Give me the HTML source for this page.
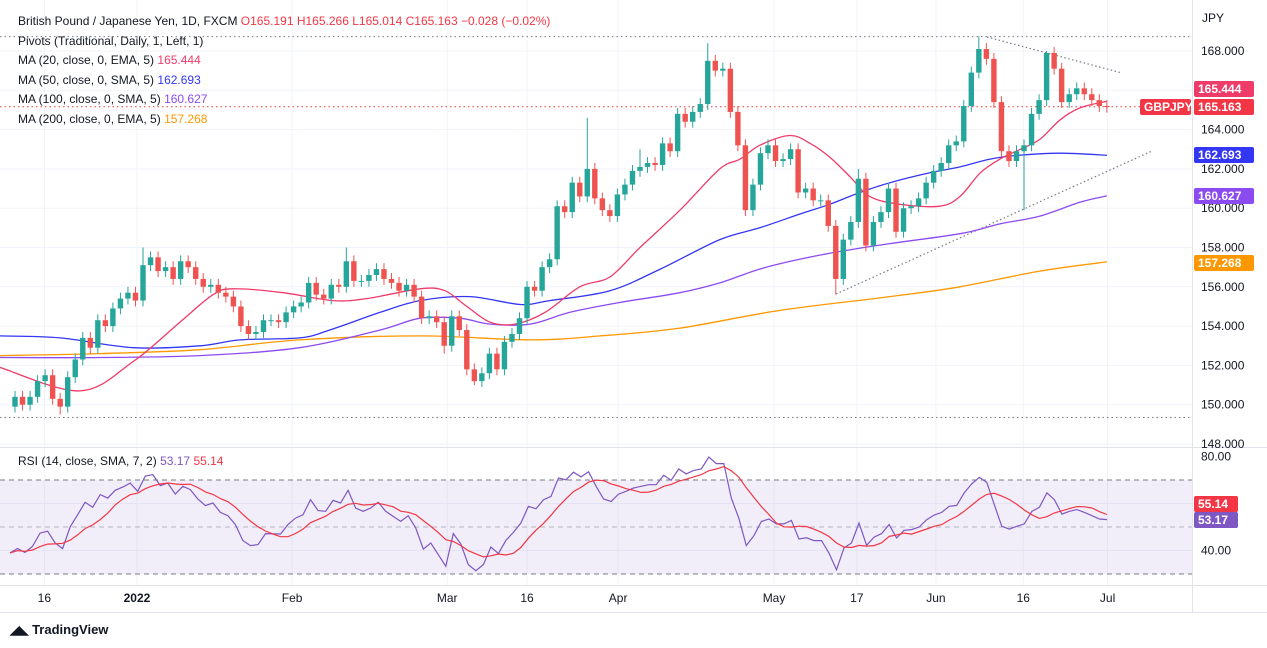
<!DOCTYPE html>
<html><head><meta charset="utf-8"><style>
html,body{margin:0;padding:0;background:#fff;width:1267px;height:648px;overflow:hidden;font-family:"Liberation Sans",Arial,sans-serif;}
svg text{font-family:"Liberation Sans",Arial,sans-serif;}
</style></head><body>
<svg id="chart" width="1267" height="648" xmlns="http://www.w3.org/2000/svg">
<rect x="0" y="0" width="1267" height="648" fill="#ffffff"/>
<g id="grid"></g>
<g id="rsiBg"></g>
<g id="mainLines"></g>
<g id="candles"></g>
<g id="rsiLines"></g>
<g id="axes"></g>
<g id="legend"></g>
</svg>
<script>
// ---- DATA ----
const firstOpen = 149.9;
const closes = [150.4,150.0,150.4,151.2,151.5,150.3,149.9,151.4,152.3,153.4,152.9,154.3,154.0,154.9,155.4,155.7,155.3,157.1,157.5,156.8,157.0,156.4,157.3,157.0,156.4,156.0,156.1,155.7,155.5,155.0,154.0,153.6,153.7,154.3,154.3,154.2,154.7,155.0,155.2,156.2,155.6,155.4,156.1,156.0,157.3,156.3,156.3,156.6,156.9,156.4,156.2,155.8,156.1,155.5,154.4,154.5,154.2,153.0,154.5,153.8,151.8,151.2,151.6,152.6,151.8,153.2,153.6,154.4,156.0,155.8,157.0,157.4,160.1,159.8,161.3,160.6,162.0,160.5,159.9,159.6,160.7,161.2,161.9,162.1,162.3,162.2,163.3,162.9,164.8,164.4,164.9,165.3,167.5,167.0,167.1,164.9,163.2,159.9,161.2,162.8,163.2,162.4,162.5,163.0,160.8,161.0,160.4,160.4,159.1,156.4,158.4,159.3,161.5,158.1,159.3,159.8,161.0,158.8,160.0,160.1,160.5,161.3,161.9,162.3,163.2,163.4,165.2,166.9,168.1,167.6,165.4,162.9,162.4,162.9,163.2,164.8,165.5,167.9,167.1,165.4,165.8,166.1,165.8,165.5,165.2,165.163];
const highOverrides = {17:158.0,44:158.0,76:164.6,92:168.4,128:168.75,137:168.0,83:163.0,112:162.0};
const lowOverrides = {6:149.5,61:151.0,109:155.6,134:159.9,97:159.6,57:152.6};
const ma20Day = [-2,8.6,15.7,21.9,26.3,29.0,35.6,42.2,46.7,53.8,57.1,60.0,63.1,66.4,70.4,75.0,79.0,83.0,88.3,93.6,96.3,98.9,102.9,105.6,108.2,110.9,113.5,117.5,122.8,125.5,128.2,130.8,133.5,136.1,138.8,141.4,145];
const ma20Val = [151.9,150.7,152.2,154.2,155.6,155.9,155.7,155.3,155.4,155.9,155.8,155.0,154.2,154.1,154.7,156.0,156.5,158.0,159.9,162.0,162.5,163.2,163.7,163.3,162.6,161.6,160.6,160.2,160.1,160.6,161.8,162.5,163.0,163.5,164.5,165.1,165.444];
const ma50Day = [-2,6.0,15.7,24.6,29.9,37.8,41.8,48.5,53.8,60.4,67.1,71.0,79.0,85.7,93.6,98.9,104.2,108.2,112.2,116.2,121.5,125.5,129.5,133.5,138.8,145];
const ma50Val = [153.5,153.4,152.9,153.0,153.3,153.4,153.8,154.7,155.3,155.5,155.1,155.3,155.8,156.9,158.4,159.0,159.7,160.2,160.8,161.3,161.8,162.1,162.5,162.7,162.8,162.693];
const ma100Day = [-2,11.3,24.6,37.8,48.5,53.8,59.1,63.1,68.4,73.7,80.3,88.3,93.6,98.9,104.2,109.6,116.2,125.5,130.8,136.1,141.4,145];
const ma100Val = [152.4,152.4,152.5,152.9,153.8,154.4,154.4,154.1,154.1,154.7,155.2,155.7,156.2,156.9,157.4,157.8,158.2,158.7,159.2,159.6,160.3,160.627];
const ma200Day = [-2,11.3,24.6,37.8,53.8,68.4,77.7,88.3,101.6,116.2,125.5,136.1,145];
const ma200Val = [152.5,152.6,152.8,153.3,153.5,153.3,153.5,153.9,154.8,155.5,156.0,156.8,157.268];
const rsi = [39,40.8,39.2,41.8,47.4,48.2,43.2,40.8,50,55.2,60.5,58.4,63.8,62.3,65.6,67,68.7,65.2,71.6,72.3,67.6,68.7,64,67.3,65.9,61.9,59.1,60.2,56.2,54.8,51,44.2,42.1,42.5,47.2,47.1,47,51,53.8,55.2,61.6,57,56.7,61.3,60.2,65.6,58.1,56.7,58.1,60.5,56.7,54.5,52.4,54.8,49.6,40.6,43.2,38.2,33.3,47.2,42.8,34,31.4,34,41.5,38.7,44.3,47.7,51.7,58.8,57.8,61.6,63,70.9,70.1,73.3,71.3,73.5,67.3,61.9,60.9,64,65.2,66.6,67.3,68,68,72,69.9,74.7,72.6,74.1,74.7,79.8,77,77,62.3,53.8,42.1,46.3,52.4,53.4,51.3,51.3,52.8,44.9,45.4,44.2,44.2,38.9,31.8,41.1,43.2,51.7,42.2,45.7,47.2,51,45.3,48.6,48.9,50,53.1,55.1,56.2,58.8,59.2,64.5,68.4,71.1,69,59.5,50.3,49.1,50.3,51.3,56.7,58.4,64.5,61.6,55.5,56.7,57.4,56.2,54.8,53.4,53.17];
const priceTicks = [168,166,164,162,160,158,156,154,152,150,148];
const rsiTicks = [80,40];
const timeLabels = ["16","2022","Feb","Mar","16","Apr","May","17","Jun","16","Jul"];
const timeDays = [3.9,16.2,36.8,57.4,68.0,80.1,100.8,111.8,122.3,133.9,145.1];

// ---- SCALES ----
const NS='http://www.w3.org/2000/svg';
function xOf(i){return 15+i*7.53;}
function yP(p){return 51+(168-p)*19.65;}
function yR(v){return 527-(v-50)*2.35;}
function el(tag,attrs,parent){const e=document.createElementNS(NS,tag);for(const k in attrs)e.setAttribute(k,attrs[k]);parent.appendChild(e);return e;}
const G=id=>document.getElementById(id);

// grid
const grid=G('grid');
priceTicks.forEach(p=>{const l=el('line',{x1:0,x2:1192,y1:yP(p),y2:yP(p),stroke:'#f0f3fa','stroke-width':1},grid);

});
timeDays.forEach(d=>{const l=el('line',{x1:xOf(d),x2:xOf(d),y1:0,y2:585,stroke:'#f0f3fa','stroke-width':1},grid);

});
const rl=el('line',{x1:0,x2:1192,y1:yR(60),y2:yR(60),stroke:'#f0f3fa'},grid);
const rl2=el('line',{x1:0,x2:1192,y1:yR(40),y2:yR(40),stroke:'#f0f3fa'},grid);

// RSI background and bands
const rb=G('rsiBg');
const band=el('rect',{x:0,y:yR(70),width:1192,height:yR(30)-yR(70),fill:'#7e57c2','fill-opacity':0.1},rb);


[[70,'#787b86','5,4'],[50,'#b2b5be','5,4'],[30,'#787b86','5,4']].forEach(a=>{const l=el('line',{x1:0,x2:1192,y1:yR(a[0]),y2:yR(a[0]),stroke:a[1],'stroke-dasharray':a[2]},rb);

});

// pivots & trendlines
const ml=G('mainLines');
[[yP(168.73),'#787b86'],[yP(149.35),'#787b86'],[yP(165.163),'#f23645']].forEach(a=>{const l=el('line',{x1:0,x2:1192,y1:a[0],y2:a[0],stroke:a[1],'stroke-dasharray':'1.5,3'},ml);

});
const t1=el('line',{x1:987,y1:37,x2:1122,y2:73,stroke:'#787b86','stroke-dasharray':'1.5,2.5','stroke-width':1.2},ml);


const t2=el('line',{x1:836,y1:294,x2:1152,y2:151,stroke:'#787b86','stroke-dasharray':'1.5,2.5','stroke-width':1.2},ml);


function smoothPath(pts){let d='M'+pts[0][0].toFixed(1)+','+pts[0][1].toFixed(1);
for(let i=0;i<pts.length-1;i++){const p0=pts[i-1]||pts[i],p1=pts[i],p2=pts[i+1],p3=pts[i+2]||p2;
const c1x=p1[0]+(p2[0]-p0[0])/6,c1y=p1[1]+(p2[1]-p0[1])/6,c2x=p2[0]-(p3[0]-p1[0])/6,c2y=p2[1]-(p3[1]-p1[1])/6;
d+='C'+c1x.toFixed(1)+','+c1y.toFixed(1)+' '+c2x.toFixed(1)+','+c2y.toFixed(1)+' '+p2[0].toFixed(1)+','+p2[1].toFixed(1);}
return d;}
function maPath(days,vals,color,name,w){const pts=days.map((t,i)=>[xOf(t),yP(vals[i])]);
const p=el('path',{d:smoothPath(pts),fill:'none',stroke:color,'stroke-width':w||1.3,'stroke-linejoin':'round'},ml);

}
maPath(ma200Day,ma200Val,'#ff9800','ma200-line');
maPath(ma100Day,ma100Val,'#8c4bf0','ma100-line');
maPath(ma50Day,ma50Val,'#3336f2','ma50-line');
maPath(ma20Day,ma20Val,'#ee3b6a','ma20-line');

// candles
const cg=G('candles');
let prev=firstOpen;
closes.forEach((c,i)=>{const o=prev;prev=c;const up=c>=o;const col=up?'#26a69a':'#ef5350';
const hi=highOverrides[i]!==undefined?highOverrides[i]:Math.max(o,c)+0.3;
const lo=lowOverrides[i]!==undefined?lowOverrides[i]:Math.min(o,c)-0.3;
const x=xOf(i);
const w=el('line',{x1:x,x2:x,y1:yP(hi),y2:yP(lo),stroke:col,'stroke-width':1},cg);


const top=yP(Math.max(o,c)),bot=yP(Math.min(o,c));
const r=el('rect',{x:x-2.7,y:top,width:5.4,height:Math.max(1,bot-top),fill:col},cg);

});

// RSI lines
const rg=G('rsiLines');
function rx(i){return 10+i*(1107-10)/(rsi.length-1);}
let d1='';rsi.forEach((v,i)=>{d1+=(i?'L':'M')+rx(i).toFixed(1)+','+yR(v).toFixed(1);});
const sma=rsi.map((v,i)=>{const s=rsi.slice(Math.max(0,i-6),i+1);return s.reduce((a,b)=>a+b,0)/s.length;});
let d2='';sma.forEach((v,i)=>{d2+=(i?'L':'M')+rx(i).toFixed(1)+','+yR(v).toFixed(1);});
const p1=el('path',{d:d1,fill:'none',stroke:'#7e57c2','stroke-width':1.2},rg);


const p2=el('path',{d:d2,fill:'none',stroke:'#f23645','stroke-width':1.2},rg);



// axes
const ax=G('axes');
function line(a,name){const l=el('line',a,ax);}
line({x1:1192.5,x2:1192.5,y1:0,y2:612,stroke:'#e0e3eb'},'price-axis-border');
line({x1:0,x2:1267,y1:447.5,y2:447.5,stroke:'#e0e3eb'},'pane-separator');
line({x1:0,x2:1267,y1:585.5,y2:585.5,stroke:'#e0e3eb'},'time-axis-border');
line({x1:0,x2:1267,y1:612.5,y2:612.5,stroke:'#e0e3eb'},'footer-border');
function txt(x,y,s,a,name){const t=el('text',a,ax);t.setAttribute('x',x);t.setAttribute('y',y);t.textContent=s;

return t;}
txt(1202,22,'JPY',{'font-size':12,fill:'#131722'},'currency-label');
priceTicks.forEach(p=>{txt(1201,yP(p)+4,p.toFixed(3),{'font-size':12,fill:'#131722'},'price-tick-label');});
rsiTicks.forEach(v=>{txt(1201,yR(v)+4,v.toFixed(2),{'font-size':12,fill:'#131722'},'rsi-tick-label');});
timeLabels.forEach((s,i)=>{txt(xOf(timeDays[i]),602,s,{'font-size':12,fill:'#131722','text-anchor':'middle','font-weight':s==='2022'?'bold':'normal'},'time-tick-label');});
function tag(x,y,w,bg,s,name){const r=el('rect',{x:x,y:y-8,width:w,height:16,fill:bg,rx:2},ax);


txt(x+4,y+4,s,{'font-size':12,fill:'#fff','font-weight':'bold'},name);}
tag(1194,89,60,'#ee3b6a','165.444','ma20-price-tag');
tag(1194,107,60,'#f23645','165.163','last-price-tag');
tag(1140,107,51,'#f23645','GBPJPY','symbol-tag');
tag(1194,155,60,'#3336f2','162.693','ma50-price-tag');
tag(1194,196,60,'#8c4bf0','160.627','ma100-price-tag');
tag(1194,263,60,'#ff9800','157.268','ma200-price-tag');
tag(1194,504,44,'#f23645','55.14','rsi-sma-tag');
tag(1194,520,44,'#7e57c2','53.17','rsi-tag');
</script>
<div style="position:absolute;left:18px;top:12px;font-size:12px;line-height:19.6px;color:#131722;">
<div>British Pound / Japanese Yen, 1D, FXCM <span style="color:#f23645">O165.191 H165.266 L165.014 C165.163 −0.028 (−0.02%)</span></div>
<div>Pivots (Traditional, Daily, 1, Left, 1)</div>
<div>MA (20, close, 0, EMA, 5) <span style="color:#ee3b6a">165.444</span></div>
<div>MA (50, close, 0, SMA, 5) <span style="color:#3336f2">162.693</span></div>
<div>MA (100, close, 0, SMA, 5) <span style="color:#8c4bf0">160.627</span></div>
<div>MA (200, close, 0, EMA, 5) <span style="color:#ff9800">157.268</span></div>
</div>
<div style="position:absolute;left:18px;top:454px;font-size:12px;color:#131722;">RSI (14, close, SMA, 7, 2) <span style="color:#7e57c2">53.17</span> <span style="color:#f23645">55.14</span></div>
<div style="position:absolute;left:10px;top:622px;font-size:13px;color:#131722;font-weight:bold;"><span style="font-size:12px;">◢◣</span> TradingView</div>
</body></html>
